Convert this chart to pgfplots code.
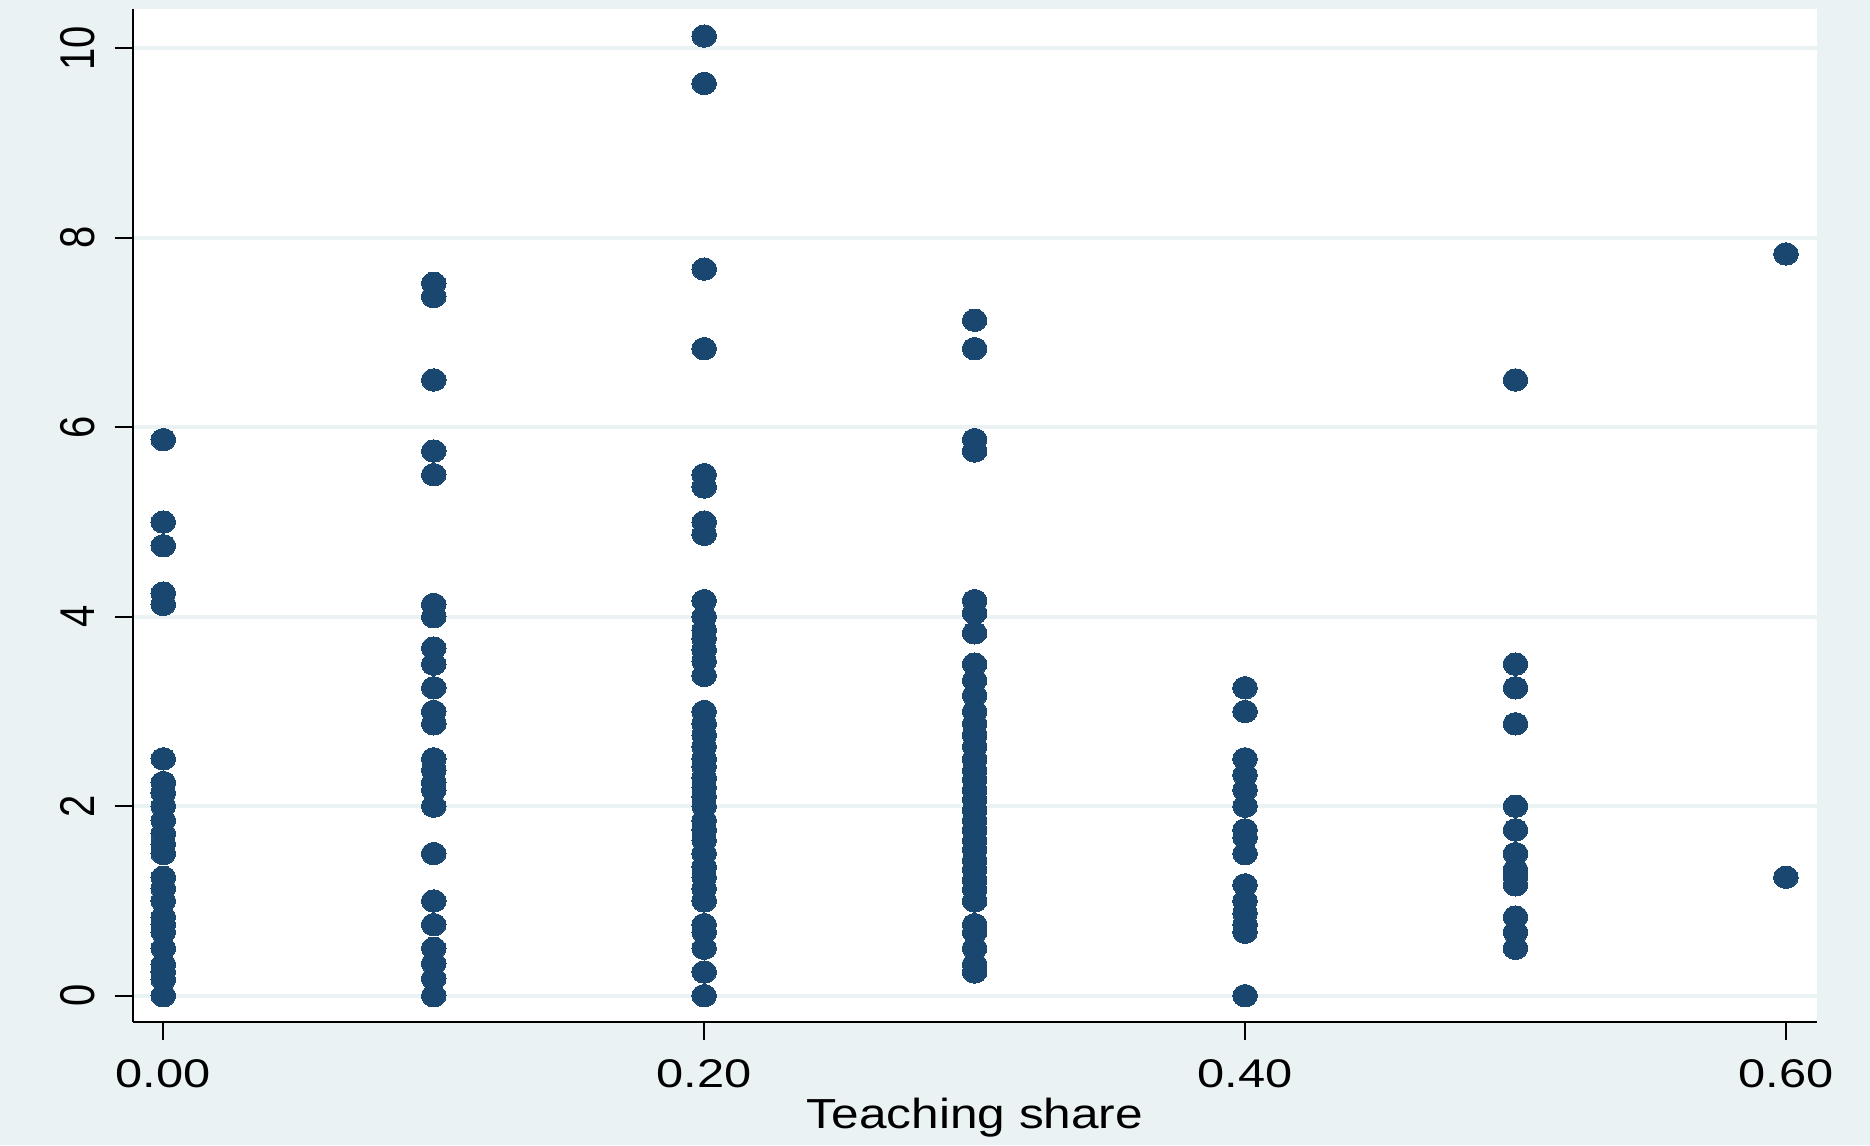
\documentclass[border=0pt]{standalone}
\usepackage{pgfplots}
\pgfplotsset{compat=1.18}
\usepackage{fontspec}
\setmainfont{Liberation Sans}
\definecolor{bgc}{RGB}{234,242,243}
\definecolor{navy}{RGB}{26,71,111}
\begin{document}
\begin{tikzpicture}
\fill[bgc] (0,0) rectangle (467.5pt,286.25pt);
\begin{axis}[
  at={(33.25pt,30.75pt)}, anchor=south west,
  scale only axis, width=421pt, height=253.3pt,
  xmin=-0.0112, xmax=0.6115, ymin=-0.278, ymax=10.418,
  axis background/.style={fill=white},
  axis x line*=bottom, axis y line*=left,
  x axis line style={-, black, line width=0.5pt},
  y axis line style={-, black, line width=0.5pt},
  xtick={0,0.2,0.4,0.6}, xticklabels={0.00,0.20,0.40,0.60},
  ytick={0,2,4,6,8,10}, yticklabels={0,2,4,6,8,10},
  tick align=outside, major tick length=4.6pt,
  tick style={black, line width=0.5pt},
  xticklabel style={font=\fontsize{10}{12}\selectfont, anchor=north, inner sep=0pt, xscale=1.22},
  yticklabel style={font=\fontsize{10}{12}\selectfont, rotate=90, anchor=south, inner sep=0pt, yscale=1.22},
  xticklabel shift=4.5pt, yticklabel shift=4.75pt,
  ymajorgrids, major grid style={bgc, line width=1pt},
  xlabel={Teaching share},
  xlabel style={font=\fontsize{10.5}{12}\selectfont, at={(axis description cs:0.5,0)}, anchor=base, yshift=-26.5pt, inner sep=0pt, xscale=1.18},
  clip=false,
]
\addplot[only marks, mark=*, mark size=2.8pt, mark options={fill=navy, draw=navy, line width=0pt, xscale=1.1}] table {
x y
0 0
0 0.17
0 0.25
0 0.33
0 0.5
0 0.67
0 0.75
0 0.83
0 1.0
0 1.13
0 1.25
0 1.5
0 1.6
0 1.71
0 1.85
0 2.0
0 2.14
0 2.25
0 2.5
0 4.13
0 4.25
0 4.75
0 5.0
0 5.87
0.1 0
0.1 0.18
0.1 0.34
0.1 0.5
0.1 0.75
0.1 1.0
0.1 1.5
0.1 2.0
0.1 2.17
0.1 2.25
0.1 2.38
0.1 2.5
0.1 2.87
0.1 3.0
0.1 3.25
0.1 3.5
0.1 3.67
0.1 4.0
0.1 4.13
0.1 5.5
0.1 5.75
0.1 6.5
0.1 7.38
0.1 7.52
0.2 0
0.2 0.25
0.2 0.5
0.2 0.67
0.2 0.75
0.2 1.0
0.2 1.13
0.2 1.25
0.2 1.36
0.2 1.5
0.2 1.64
0.2 1.75
0.2 1.85
0.2 2.0
0.2 2.1
0.2 2.2
0.2 2.3
0.2 2.42
0.2 2.5
0.2 2.63
0.2 2.75
0.2 2.87
0.2 3.0
0.2 3.38
0.2 3.53
0.2 3.65
0.2 3.77
0.2 3.86
0.2 4.0
0.2 4.17
0.2 4.87
0.2 5.0
0.2 5.37
0.2 5.5
0.2 6.83
0.2 7.67
0.2 9.63
0.2 10.13
0.3 0.25
0.3 0.33
0.3 0.5
0.3 0.67
0.3 0.75
0.3 1.0
0.3 1.12
0.3 1.22
0.3 1.33
0.3 1.43
0.3 1.54
0.3 1.64
0.3 1.75
0.3 1.85
0.3 1.96
0.3 2.07
0.3 2.17
0.3 2.28
0.3 2.38
0.3 2.5
0.3 2.63
0.3 2.75
0.3 2.87
0.3 3.0
0.3 3.17
0.3 3.33
0.3 3.5
0.3 3.83
0.3 4.04
0.3 4.17
0.3 5.75
0.3 5.87
0.3 6.83
0.3 7.13
0.4 0
0.4 0.67
0.4 0.75
0.4 0.87
0.4 1.0
0.4 1.17
0.4 1.5
0.4 1.67
0.4 1.75
0.4 2.0
0.4 2.17
0.4 2.33
0.4 2.5
0.4 3.0
0.4 3.25
0.5 0.5
0.5 0.67
0.5 0.83
0.5 1.17
0.5 1.25
0.5 1.33
0.5 1.5
0.5 1.75
0.5 2.0
0.5 2.87
0.5 3.25
0.5 3.5
0.5 6.5
0.6 1.25
0.6 7.83
};
\end{axis}
\pgfresetboundingbox
\useasboundingbox (0,0) rectangle (467.5pt,286.25pt);
\end{tikzpicture}
\end{document}
